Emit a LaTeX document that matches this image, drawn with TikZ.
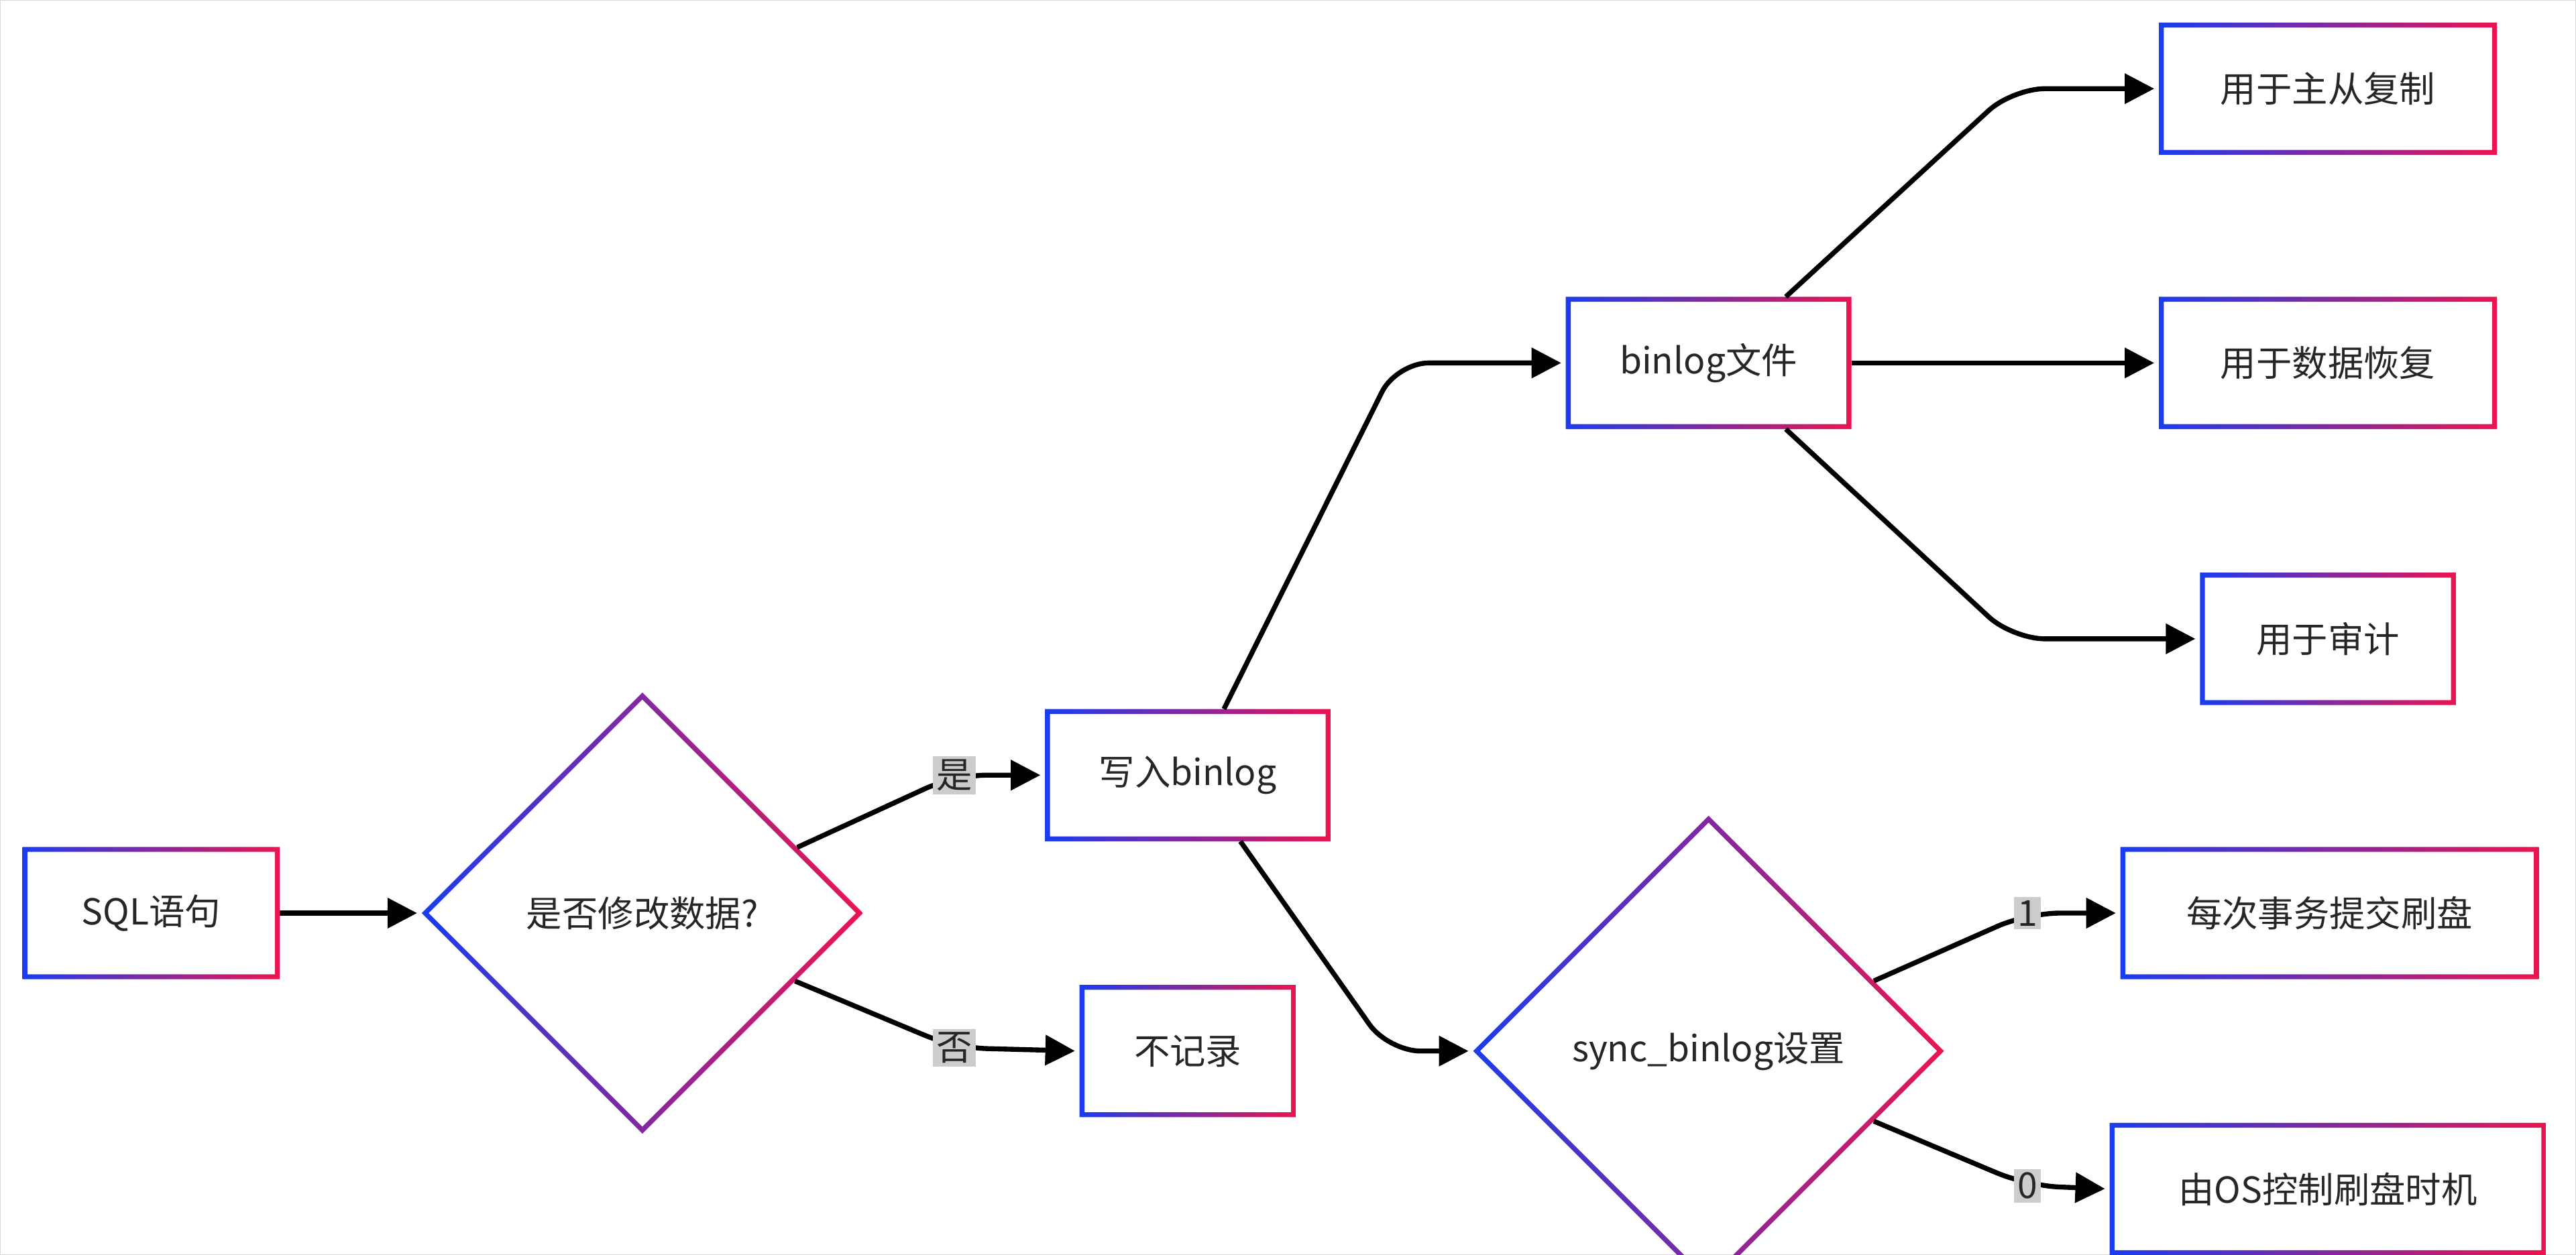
\documentclass[tikz,border=0pt]{standalone}
\usepackage{fontspec}
\setmainfont{Noto Sans CJK SC}
\usetikzlibrary{positioning, calc}
\usetikzlibrary{arrows.meta}
\usetikzlibrary{shapes}
\definecolor{gblue}{HTML}{1A3CF0}
\definecolor{gred}{HTML}{EC1450}
\definecolor{lblgray}{HTML}{CCCCCC}
\def\bw{0.075cm}
% gradient outlines
\newcommand\gradbox[1]{\shade[left color=gblue,right color=gred,even odd rule]
  (#1.south west) rectangle (#1.north east)
  ($(#1.south west)+(\bw,\bw)$) rectangle ($(#1.north east)-(\bw,\bw)$);}
\newcommand\graddia[1]{\shade[left color=gblue,right color=gred,even odd rule]
  (#1.north) -- (#1.east) -- (#1.south) -- (#1.west) -- cycle
  ($(#1.north)+(0,-1.41*\bw)$) -- ($(#1.east)+(-1.41*\bw,0)$) -- ($(#1.south)+(0,1.41*\bw)$) -- ($(#1.west)+(1.41*\bw,0)$) -- cycle;}
\begin{document}
\begin{tikzpicture}[x=0.025cm,y=-0.025cm,font=\fontsize{15.5}{18}\selectfont,
  box/.style={rectangle,minimum height=2cm,inner sep=0pt,text=black!85},
  dia/.style={diamond,aspect=1,inner sep=0pt,text=black!85},
  arr/.style={-{Triangle[length=0.45cm,width=0.45cm]},line width=0.075cm,rounded corners=14pt,shorten >=2pt},
  lbl/.style={fill=lblgray,inner sep=1.5pt,text=black!85}]
 	\useasboundingbox (0,0) rectangle (1568,764);
 	\draw[black!15] (0,0) rectangle (1568,764);
 	% nodes
 	\node[box,minimum width=3.9cm] 	(sql)	at (92,556)		{SQL语句};
 	\node[dia,minimum width=6.7cm,minimum height=6.7cm] 	(mod)	at (391,556)	{是否修改数据?};
 	\node[box,minimum width=4.33cm] 	(write)	at (723,472)	{写入binlog};
 	\node[box,minimum width=3.28cm] 	(skip)	at (723,640)	{不记录};
 	\node[box,minimum width=4.33cm] 	(file)	at (1040,221)	{binlog文件};
 	\node[dia,minimum width=7.15cm,minimum height=7.15cm] 	(sync)	at (1040,640)	{sync\_binlog设置};
 	\node[box,minimum width=5.13cm] 	(repl)	at (1417,54)	{用于主从复制};
 	\node[box,minimum width=5.13cm] 	(recv)	at (1417,221)	{用于数据恢复};
 	\node[box,minimum width=3.88cm] 	(audit)	at (1417,389)	{用于审计};
 	\node[box,minimum width=6.35cm] 	(each)	at (1418,556)	{每次事务提交刷盘};
 	\node[box,minimum width=6.63cm] 	(os)	at (1417,724)	{由OS控制刷盘时机};
 	% outlines
 	\foreach \n in {sql,write,skip,file,repl,recv,audit,each,os} {\gradbox{\n}}
 	\graddia{mod}
 	\graddia{sync}
 	% bends
 	\coordinate (cy) at (581,472);
 	\coordinate (cn) at (581,638);
 	\coordinate (c1) at (1234,556);
 	\coordinate (c0) at (1234,722);
 	\coordinate (cf) at (850,221);
 	\coordinate (cs) at (845,640);
 	\coordinate (cr) at (1225,54);
 	\coordinate (ca) at (1225,389);
 	% connectors
 	\draw[arr] (sql.east) -- (mod.west);
 	\draw[arr] (mod.23) -- (cy) -- (write.west);
 	\draw[arr] (mod.-24) -- (cn) -- (skip.west);
 	\draw[arr] ($(write.north)+(22,0)$) -- (cf) -- (file.west);
 	\draw[arr] ($(write.south)+(32,0)$) -- (cs) -- (sync.west);
 	\draw[arr] ($(file.north)+(47,0)$) -- (cr) -- (repl.west);
 	\draw[arr] (file.east) -- (recv.west);
 	\draw[arr] ($(file.south)+(47,0)$) -- (ca) -- (audit.west);
 	\draw[arr] (sync.23) -- (c1) -- (each.west);
 	\draw[arr] (sync.-23) -- (c0) -- (os.west);
 	% labels
 	\node[lbl] (ly) at (cy) {是};
 	\node[lbl] (ln) at (cn) {否};
 	\node[lbl] (l1) at (c1) {1};
 	\node[lbl] (l0) at (c0) {0};
\end{tikzpicture}
\end{document}
